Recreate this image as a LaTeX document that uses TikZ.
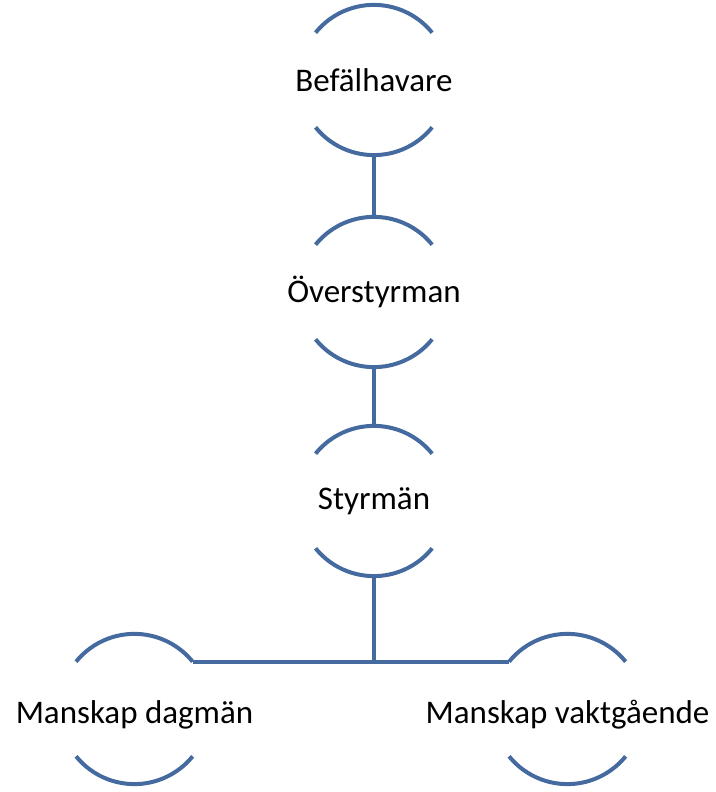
\documentclass[tikz,border=0pt]{standalone}
\usepackage{fontspec}
\setmainfont{Carlito}
\definecolor{lineblue}{RGB}{68,106,160}
\begin{document}
\begin{tikzpicture}[x=1pt,y=1pt,
  role/.style={circle,minimum size=150pt,inner sep=0pt,
    label={[font=\fontsize{33}{38}\selectfont,inner sep=0pt]center:#1}},
  lowrole/.style={circle,minimum size=150pt,inner sep=0pt,
    label={[font=\fontsize{33}{38}\selectfont,inner sep=0pt,yshift=-6pt]center:#1}},
  brk/.style={draw=lineblue,line width=4pt},
  link/.style={draw=lineblue,line width=4pt}]
\useasboundingbox (0,0) rectangle (715,792);
\node[role={Befälhavare}] (bef) at (374,712) {};
\node[role={Överstyrman}] (over) at (374,500) {};
\node[role={Styrmän}] (styr) at (374,291) {};
\node[lowrole={Manskap dagmän}] (dag) at (134.5,83) {};
\node[lowrole={Manskap vaktgående}] (vakt) at (567.5,83) {};
\foreach \n in {bef,over,styr,dag,vakt}{
  \draw[brk] (\n.141) arc[start angle=141,end angle=39,radius=75pt];
  \draw[brk] (\n.219) arc[start angle=219,end angle=321,radius=75pt];
}
\draw[link] (bef.south) -- (over.north);
\draw[link] (over.south) -- (styr.north);
\draw[link] (styr.south) -- (styr.south |- dag.39);
\draw[link] (dag.39) -- (vakt.141);
\end{tikzpicture}
\end{document}
